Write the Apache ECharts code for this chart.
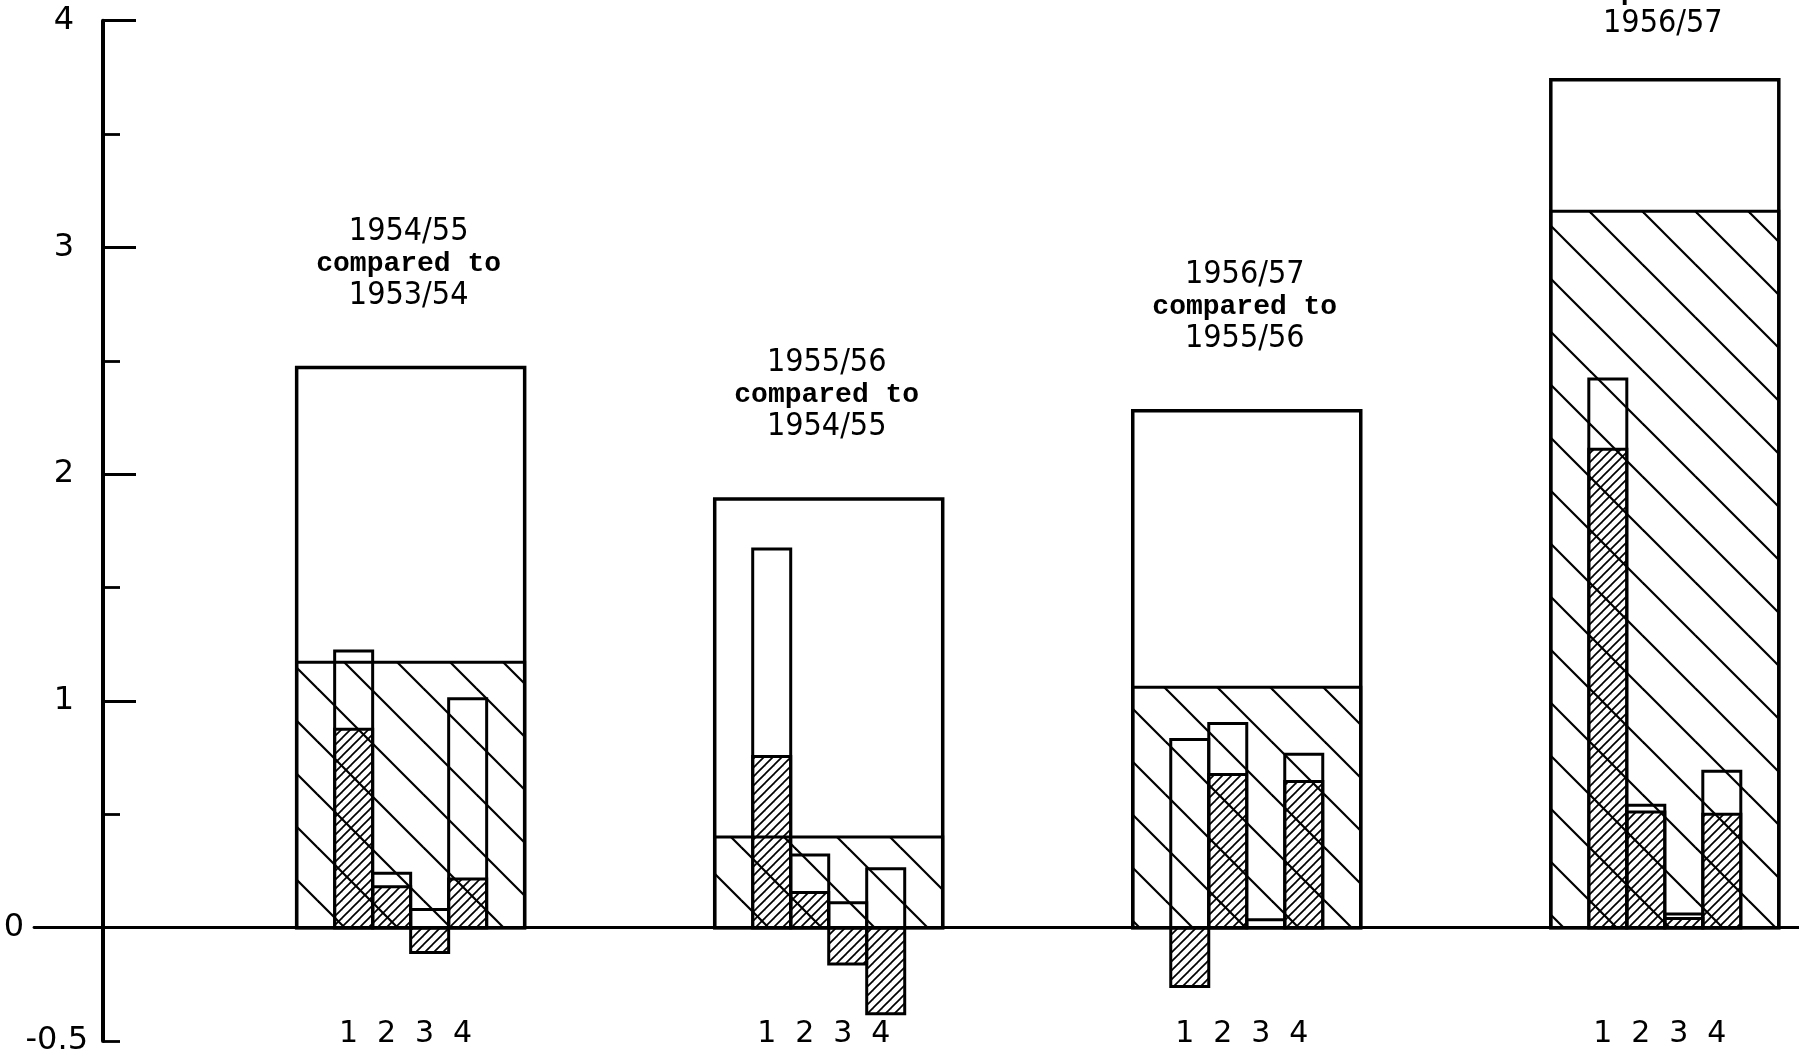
<!DOCTYPE html>
<html>
<head>
<meta charset="utf-8">
<script src="https://cdn.jsdelivr.net/npm/echarts@6/dist/echarts.min.js"></script>
<style>
html,body{margin:0;padding:0;background:#fff;}
#chart{width:1799px;height:1057px;}
</style>
</head>
<body>
<div id="chart"></div>
<script>
// ---- data ----
const captions = [
  ['1954/55', 'compared to', '1953/54'],
  ['1955/56', 'compared to', '1954/55'],
  ['1956/57', 'compared to', '1955/56'],
  ['1957/58', 'compared to', '1956/57']
];
const groupPos = [1, 2, 3, 4];
const bigTotal = [2.47, 1.89, 2.28, 3.74];
const bigHatched = [1.17, 0.40, 1.06, 3.16];
const subTotal = [
  [1.22, 0.24, 0.08, 1.01],
  [1.67, 0.32, 0.11, 0.26],
  [0.83, 0.90, 0.035, 0.765],
  [2.42, 0.54, 0.06, 0.69]
];
const subHatched = [
  [0.875, 0.18, -0.11, 0.215],
  [0.755, 0.155, -0.16, -0.38],
  [-0.26, 0.675, 0, 0.645],
  [2.11, 0.51, 0.04, 0.50]
];
const subLabels = ['1', '2', '3', '4'];
const yLabelValues = [-0.5, 0, 1, 2, 3, 4];
const yMajorTicks = [0, 1, 2, 3, 4];

// ---- hatch patterns ----
function makeHatch(w, h, lw, dir) {
  const c = document.createElement('canvas');
  c.width = w; c.height = h;
  const ctx = c.getContext('2d');
  ctx.strokeStyle = '#000';
  ctx.lineWidth = lw;
  ctx.lineCap = 'square';
  for (let k = -1; k <= 1; k++) {
    ctx.beginPath();
    if (dir === 'back') {
      ctx.moveTo(k * w, 0); ctx.lineTo(k * w + w, h);
    } else {
      ctx.moveTo(k * w, h); ctx.lineTo(k * w + w, 0);
    }
    ctx.stroke();
  }
  return { type: 'pattern', image: c, repeat: 'repeat' };
}
const bigPattern = makeHatch(53, 53, 2.2, 'back');
const smallPattern = makeHatch(9, 9, 1.7, 'fwd');

const SUB_W = 0.0909; // width of a small bar in x units
const yearFont = "32px 'DejaVu Sans Condensed', 'DejaVu Sans'";
const monoFont = "bold 28px 'Liberation Mono'";
const labelFont = "30px 'DejaVu Sans'";

function renderItem(params, api) {
  const k = params.dataIndex;
  const xv = api.value(0);
  const unit = api.size([1, 0])[0];
  const bw = unit * SUB_W;
  const base = api.coord([xv, 0]);
  const cx = base[0], y0 = base[1];
  const gridTop = api.coord([xv, 4])[1];
  const children = [];
  function rect(xL, w, v, fill, lw) {
    const y = api.coord([xv, v])[1];
    return {
      type: 'rect',
      shape: { x: xL, y: Math.min(y, y0), width: w, height: Math.abs(y - y0) },
      style: { fill: fill, stroke: '#000', lineWidth: lw }
    };
  }
  // big bar
  children.push(rect(cx - 3 * bw, 6 * bw, bigTotal[k], '#fff', 3.5));
  children.push(rect(cx - 3 * bw, 6 * bw, bigHatched[k], bigPattern, 3));
  // small bars
  for (let j = 0; j < 4; j++) {
    const xL = cx - 2 * bw + j * bw;
    if (subTotal[k][j] !== 0) children.push(rect(xL, bw, subTotal[k][j], 'none', 3));
    if (subHatched[k][j] !== 0) children.push(rect(xL, bw, subHatched[k][j], smallPattern, 3));
    const yb = api.coord([xv, -0.5])[1];
    children.push({
      type: 'text',
      style: {
        text: subLabels[j], x: xL + bw / 2 - 5, y: yb - 7,
        align: 'center', verticalAlign: 'middle',
        font: labelFont, fill: '#000'
      }
    });
  }
  // caption (kept just below the top of the plot if the bar is very tall)
  const yTop = api.coord([xv, bigTotal[k]])[1];
  const lastLineY = Math.max(yTop - 72, gridTop + 3);
  const lines = captions[k];
  for (let m = 0; m < 3; m++) {
    children.push({
      type: 'text',
      style: {
        text: lines[m], x: cx - 2, y: lastLineY - (2 - m) * 32,
        align: 'center', verticalAlign: 'middle',
        font: m === 1 ? monoFont : yearFont, fill: '#000'
      }
    });
  }
  return { type: 'group', children: children };
}

const chart = echarts.init(document.getElementById('chart'), null, { renderer: 'canvas' });
const yCommon = {
  type: 'value', min: -0.5, max: 4, interval: 0.5,
  position: 'left', offset: -69,
  splitLine: { show: false }
};
chart.setOption({
  animation: false,
  backgroundColor: '#fff',
  grid: { left: 34, right: 0, top: 20.7, bottom: 14, containLabel: false },
  xAxis: {
    type: 'value', min: 0.099, max: 4.321,
    axisLine: { show: true, onZero: true, lineStyle: { color: '#000', width: 2.8 } },
    axisTick: { show: false }, axisLabel: { show: false }, splitLine: { show: false }
  },
  yAxis: [
    Object.assign({}, yCommon, {
      axisLine: { show: true, onZero: false, lineStyle: { color: '#000', width: 4 } },
      axisTick: { show: true, inside: true, length: 17, lineStyle: { color: '#000', width: 2.8 } },
      axisLabel: {
        show: true, margin: 15, customValues: yLabelValues,
        formatter: function (v) {
          if (v === 0) return '{z|0}';
          if (v === -0.5) return '{m|-0.5}';
          return '{n|' + v + '}';
        },
        rich: {
          z: { fontFamily: 'DejaVu Sans', fontSize: 32, color: '#000', padding: [0, 64, 0, 0] },
          m: { fontFamily: 'DejaVu Sans', fontSize: 32, color: '#000' },
          n: { fontFamily: 'DejaVu Sans', fontSize: 32, color: '#000', padding: [0, 14, 0, 0] }
        }
      }
    }),
    Object.assign({}, yCommon, {
      axisLine: { show: false, onZero: false },
      axisTick: { show: true, inside: true, length: 33, customValues: yMajorTicks, lineStyle: { color: '#000', width: 2.8 } },
      axisLabel: { show: false }
    })
  ],
  series: [{
    type: 'custom',
    clip: false,
    renderItem: renderItem,
    encode: { x: 0, y: 1 },
    data: groupPos.map((p, k) => [p, bigTotal[k]]),
    z: 5
  }]
});
</script>
</body>
</html>
